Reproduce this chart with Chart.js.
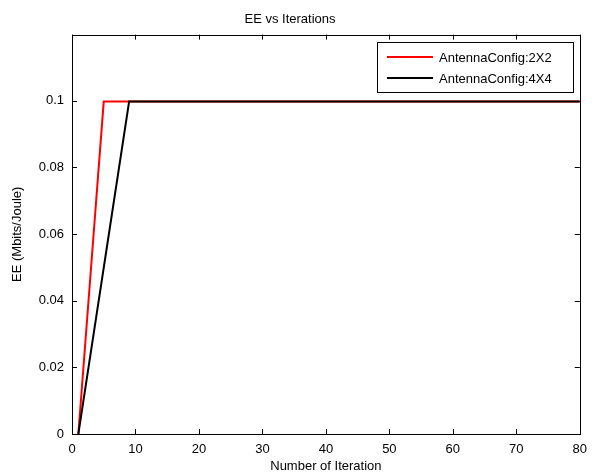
<!DOCTYPE html>
<html>
<head>
<meta charset="utf-8">
<script src="https://cdn.jsdelivr.net/npm/chart.js@4"></script>
<style>
  html, body { margin: 0; padding: 0; background: #fff; }
  #wrap { width: 595px; height: 475px; }
</style>
</head>
<body>
<div id="wrap"><canvas id="c" width="595" height="475"></canvas></div>
<script>
// data
const seriesNames = ["AntennaConfig:2X2", "AntennaConfig:4X4"]
const iter2x2 = [1, 5, 80]
const ee2x2 = [0, 0.0997, 0.0997]
const iter4x4 = [1, 9, 80]
const ee4x4 = [0, 0.0997, 0.0997]
const xTicks = [0, 10, 20, 30, 40, 50, 60, 70, 80]
const yTicks = [0, 0.02, 0.04, 0.06, 0.08, 0.1]

const FONT = "Liberation Sans, Arial, sans-serif"

function toPoints(xs, ys) {
  return xs.map((x, i) => ({ x: x, y: ys[i] }))
}

// MATLAB-like box, inward ticks and legend
const matlabAxes = {
  id: "matlabAxes",
  afterDraw(chart) {
    const ctx = chart.ctx
    const a = chart.chartArea
    const xs = chart.scales.x
    const ys = chart.scales.y
    ctx.save()
    ctx.strokeStyle = "#000"
    ctx.lineWidth = 1
    ctx.beginPath()
    xTicks.forEach((t) => {
      const px = Math.round(xs.getPixelForValue(t)) + 0.5
      ctx.moveTo(px, a.bottom); ctx.lineTo(px, a.bottom - 5)
      ctx.moveTo(px, a.top); ctx.lineTo(px, a.top + 5)
    })
    yTicks.forEach((t) => {
      const py = Math.round(ys.getPixelForValue(t)) + 0.5
      ctx.moveTo(a.left, py); ctx.lineTo(a.left + 5, py)
      ctx.moveTo(a.right, py); ctx.lineTo(a.right - 5, py)
    })
    ctx.stroke()
    ctx.strokeRect(Math.round(a.left) + 0.5, Math.round(a.top) + 0.5,
      Math.round(a.right - a.left), Math.round(a.bottom - a.top))

    // legend box
    const lx = 377, ly = 42, lw = 196, lh = 50
    ctx.fillStyle = "#fff"
    ctx.fillRect(lx, ly, lw, lh)
    ctx.strokeRect(lx + 0.5, ly + 0.5, lw, lh)
    ctx.font = "13px " + FONT
    ctx.textBaseline = "middle"
    chart.data.datasets.forEach((ds, i) => {
      const y = ly + 15 + i * 21
      ctx.strokeStyle = ds.borderColor
      ctx.lineWidth = 2
      ctx.beginPath()
      ctx.moveTo(lx + 10, y); ctx.lineTo(lx + 56, y)
      ctx.stroke()
      ctx.fillStyle = "#000"
      ctx.fillText(ds.label, lx + 62, y + 1)
    })
    ctx.restore()
  }
}

new Chart(document.getElementById("c"), {
  type: "scatter",
  data: {
    datasets: [
      {
        label: seriesNames[0],
        data: toPoints(iter2x2, ee2x2),
        showLine: true,
        borderColor: "#ff0000",
        backgroundColor: "#ff0000",
        borderWidth: 2,
        pointRadius: 0,
        tension: 0,
        order: 1,
      },
      {
        label: seriesNames[1],
        data: toPoints(iter4x4, ee4x4),
        showLine: true,
        borderColor: "#000000",
        backgroundColor: "#000000",
        borderWidth: 2,
        pointRadius: 0,
        tension: 0,
        order: 0,
      },
    ],
  },
  options: {
    responsive: false,
    animation: false,
    layout: { padding: { top: 0, right: 15, left: 0, bottom: 0 } },
    plugins: {
      legend: { display: false },
      tooltip: { enabled: false },
      title: {
        display: true,
        text: "EE vs Iterations",
        color: "#000",
        font: { family: FONT, size: 13, weight: "normal" },
        padding: { top: 12, bottom: 7 },
      },
    },
    scales: {
      x: {
        type: "linear",
        min: 0,
        max: 80,
        afterBuildTicks: (s) => { s.ticks = xTicks.map((v) => ({ value: v })) },
        afterFit: (s) => { s.height = 41 },
        grid: { display: false, drawTicks: false },
        border: { display: false },
        ticks: {
          color: "#000",
          padding: 8,
          maxRotation: 0,
          font: { family: FONT, size: 13 },
        },
        title: {
          display: true,
          text: "Number of Iteration",
          color: "#000",
          padding: { top: 0, bottom: 1 },
          font: { family: FONT, size: 13 },
        },
      },
      y: {
        type: "linear",
        min: 0,
        max: 0.1198,
        afterBuildTicks: (s) => { s.ticks = yTicks.map((v) => ({ value: v })) },
        afterFit: (s) => { s.width = 72 },
        grid: { display: false, drawTicks: false },
        border: { display: false },
        ticks: {
          color: "#000",
          padding: 8,
          font: { family: FONT, size: 13 },
          callback: (v) => String(parseFloat(Number(v).toFixed(3))),
        },
        title: {
          display: true,
          text: "EE (Mbits/Joule)",
          color: "#000",
          padding: { top: 10, bottom: 0 },
          font: { family: FONT, size: 13 },
        },
      },
    },
  },
  plugins: [matlabAxes],
})
</script>
</body>
</html>
